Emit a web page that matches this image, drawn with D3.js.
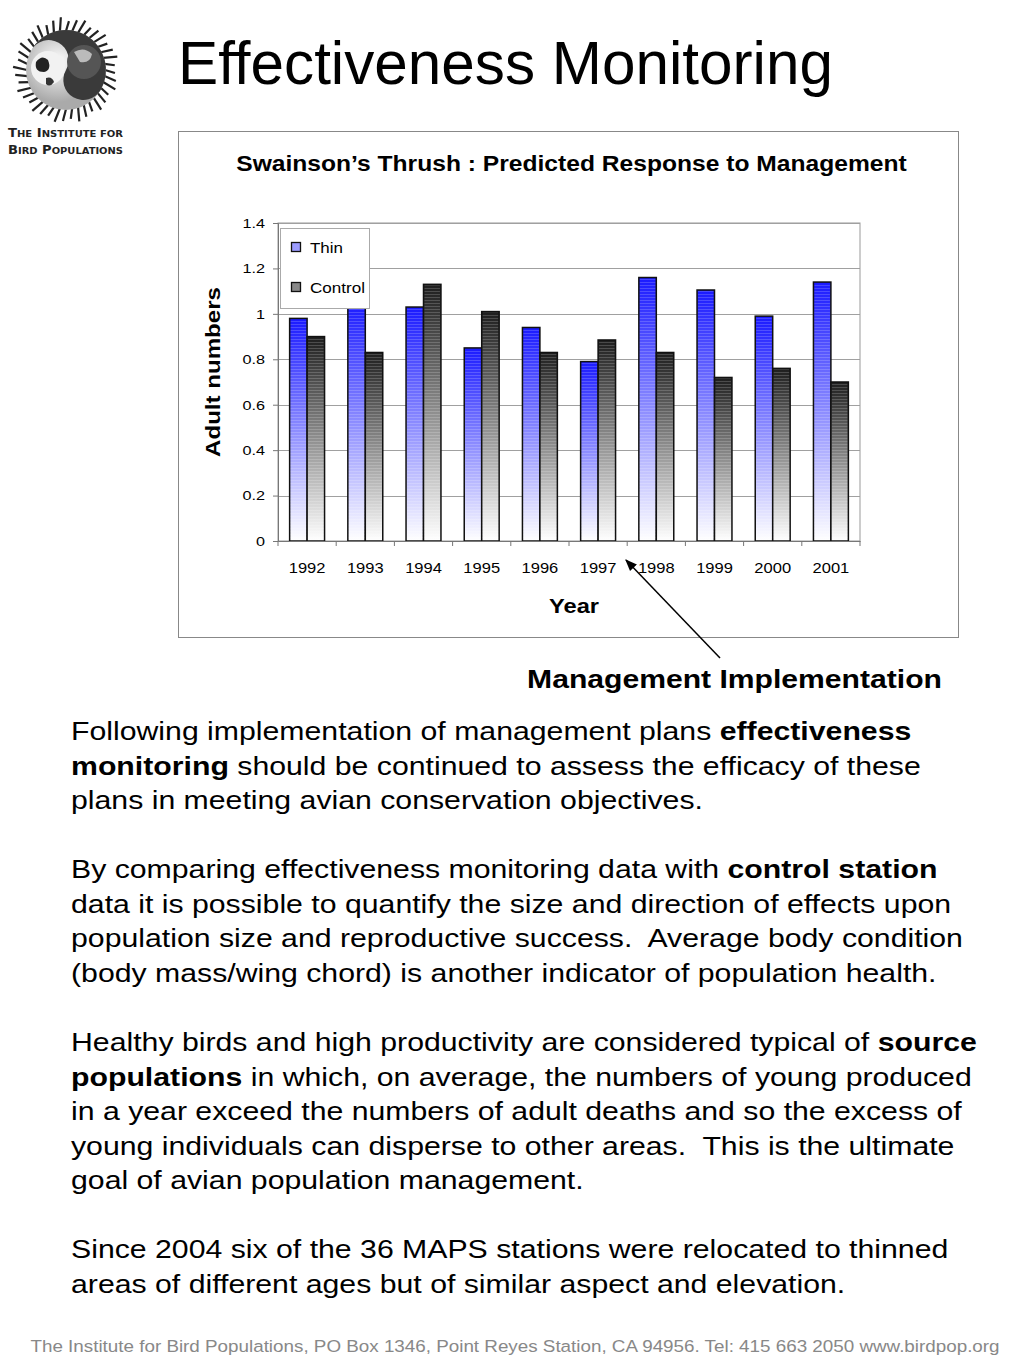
<!DOCTYPE html>
<html><head><meta charset="utf-8">
<script src="https://cdn.jsdelivr.net/npm/d3@7"></script>
<style>
html,body{margin:0;padding:0;background:#fff;}
svg{display:block;font-family:"Liberation Sans",Arial,Helvetica,sans-serif;}
</style></head>
<body>
<script>
const years = ["1992","1993","1994","1995","1996","1997","1998","1999","2000","2001"];
const thinValues = [0.98,1.05,1.03,0.85,0.94,0.79,1.16,1.105,0.99,1.14];
const controlValues = [0.90,0.83,1.13,1.01,0.83,0.885,0.83,0.72,0.76,0.70];
const seriesNames = ["Thin","Control"];
const yTicks = [0,0.2,0.4,0.6,0.8,1,1.2,1.4];

const W=1024,H=1365;
const svg=d3.select("body").append("svg").attr("width",W).attr("height",H);
svg.append("rect").attr("width",W).attr("height",H).attr("fill","#fff");
const defs=svg.append("defs");

// text helper: places text at (x,y) with anchor, and stretches horizontally to target width
function addText(parent,x,y,str,opts){
  const o=Object.assign({size:14,weight:"normal",anchor:"start",fill:"#000",width:null,rotate:0},opts);
  const t=parent.append("text").attr("x",0).attr("y",0).attr("font-size",o.size).attr("font-weight",o.weight)
    .attr("text-anchor",o.anchor).attr("fill",o.fill).style("white-space","pre");
  if(Array.isArray(str)) str.forEach(([s,b])=>t.append("tspan").attr("font-weight",b?"bold":"normal").text(s));
  else t.text(str);
  let sx=1;
  if(o.width){const w=t.node().getComputedTextLength(); if(w>0) sx=o.width/w;}
  t.attr("transform",`translate(${x},${y}) rotate(${o.rotate}) scale(${sx},1)`);
  return t;
}

function grad(id,top){
  const g=defs.append("linearGradient").attr("id",id).attr("x1",0).attr("y1",0).attr("x2",0).attr("y2",1);
  g.append("stop").attr("offset","0%").attr("stop-color",top);
  g.append("stop").attr("offset","100%").attr("stop-color","#ffffff");
}
grad("gThin","#1a1aff");
grad("gCtrl","#1e1e1e");
const pat=defs.append("pattern").attr("id","stripes").attr("width",4).attr("height",3).attr("patternUnits","userSpaceOnUse");
pat.append("rect").attr("width",4).attr("height",1).attr("fill","rgba(255,255,255,0.18)");

// ---- Logo ----
const logo=svg.append("g").attr("transform","translate(66,70)");
const R=44;
for(let i=0;i<40;i++){
  const a=i/40*2*Math.PI;
  const r1=R-5,r2=R+5+(i%3)*2;
  logo.append("line").attr("x1",Math.cos(a)*r1).attr("y1",Math.sin(a)*r1)
    .attr("x2",Math.cos(a+0.06)*r2).attr("y2",Math.sin(a+0.06)*r2)
    .attr("stroke","#222").attr("stroke-width",2.2);
}
const lg=defs.append("radialGradient").attr("id","lg").attr("cx","40%").attr("cy","40%");
lg.append("stop").attr("offset","0%").attr("stop-color","#fff");
lg.append("stop").attr("offset","100%").attr("stop-color","#aaa");
logo.append("circle").attr("r",R-4).attr("fill","url(#lg)");
const r=R-4;
logo.append("path").attr("d",`M0,${-r} A${r},${r} 0 0,1 0,${r} A${r/2},${r/2} 0 0,1 0,0 A${r/2},${r/2} 0 0,0 0,${-r} Z`)
  .attr("fill","#3a3a3a").attr("transform","rotate(-60)");
logo.append("circle").attr("cx",-18).attr("cy",-2).attr("r",17).attr("fill","#f2f2f2");
logo.append("path").attr("d","M-30,-8 q6,-8 12,-2 q4,10 -4,12 q-10,0 -8,-10 Z").attr("fill","#222");
logo.append("path").attr("d","M-20,8 q6,-2 8,4 q-4,6 -8,2 Z").attr("fill","#333");
logo.append("circle").attr("cx",18).attr("cy",-8).attr("r",17).attr("fill","#555");
logo.append("path").attr("d","M8,-18 q10,-6 18,2 q-2,10 -12,8 Z").attr("fill","#bbb");
const lt=svg.append("g").attr("font-family","'DejaVu Sans',Arial,sans-serif").attr("font-weight","bold").attr("fill","#222");
lt.append("text").attr("x",8).attr("y",137).attr("font-size",12.5).attr("textLength",115).attr("lengthAdjust","spacingAndGlyphs").html('T<tspan font-size="9.5">HE</tspan> I<tspan font-size="9.5">NSTITUTE FOR</tspan>');
lt.append("text").attr("x",8).attr("y",154).attr("font-size",12.5).attr("textLength",115).attr("lengthAdjust","spacingAndGlyphs").html('B<tspan font-size="9.5">IRD</tspan> P<tspan font-size="9.5">OPULATIONS</tspan>');

// ---- Page title ----
addText(svg,178,84,"Effectiveness Monitoring",{size:62,width:655});

// ---- Chart box ----
svg.append("rect").attr("x",178.5).attr("y",131.5).attr("width",780).attr("height",506).attr("fill","#fff").attr("stroke","#888");
addText(svg,571.5,171,"Swainson\u2019s Thrush : Predicted Response to Management",{size:23,weight:"bold",anchor:"middle",width:671});

const px0=278,px1=860,py0=223,py1=541;
const x=d3.scaleBand().domain(years).range([px0,px1]).paddingInner(0.4).paddingOuter(0.2);
const xs=d3.scaleBand().domain(seriesNames).range([0,x.bandwidth()]);
const y=d3.scaleLinear().domain([0,1.4]).range([py1,py0]);

const plot=svg.append("g");
plot.append("rect").attr("x",px0).attr("y",py0).attr("width",px1-px0).attr("height",py1-py0).attr("fill","#fff").attr("stroke","#999");
plot.selectAll("line.grid").data(yTicks.slice(1)).enter().append("line").attr("class","grid")
  .attr("x1",px0).attr("x2",px1).attr("y1",d=>Math.round(y(d))+0.5).attr("y2",d=>Math.round(y(d))+0.5).attr("stroke","#a0a0a0");

const data=years.map((yr,i)=>({yr,vals:[{s:"Thin",v:thinValues[i]},{s:"Control",v:controlValues[i]}]}));
const grp=plot.selectAll("g.yr").data(data).enter().append("g").attr("transform",d=>`translate(${x(d.yr)},0)`);
grp.selectAll("rect.bar").data(d=>d.vals).enter().append("rect").attr("class","bar")
  .attr("x",d=>xs(d.s)).attr("y",d=>y(d.v)).attr("width",xs.bandwidth()).attr("height",d=>py1-y(d.v))
  .attr("fill",d=>d.s==="Thin"?"url(#gThin)":"url(#gCtrl)").attr("stroke","#111").attr("stroke-width",1.5);
grp.selectAll("rect.str").data(d=>d.vals).enter().append("rect").attr("class","str")
  .attr("x",d=>xs(d.s)+1).attr("y",d=>y(d.v)+1).attr("width",xs.bandwidth()-2).attr("height",d=>py1-y(d.v)-2)
  .attr("fill","url(#stripes)");

// axes
const yAxis=d3.axisLeft(y).tickValues(yTicks).tickSize(5).tickFormat(d=>d===0?"0":String(d));
const ya=svg.append("g").attr("transform",`translate(${px0},0)`).call(yAxis);
ya.select(".domain").attr("stroke","#777");
ya.selectAll(".tick line").attr("stroke","#777");
ya.selectAll("text").attr("font-size",13.5).attr("fill","#000").attr("x",0).attr("dy","0.32em")
  .attr("transform","translate(-13,0) scale(1.2,1)");

const xa=svg.append("g").attr("transform",`translate(0,${py1})`).call(d3.axisBottom(x).tickSize(0).tickPadding(20));
xa.select(".domain").attr("stroke","#777");
xa.selectAll("text").attr("font-size",14).attr("fill","#000").attr("y",0).attr("dy","0")
  .attr("transform","translate(0,32) scale(1.18,1)");
const bounds=years.map(d=>x(d)-x.step()*x.paddingInner()/2).concat([px1]);
svg.selectAll("line.xt").data(bounds).enter().append("line").attr("x1",d=>d).attr("x2",d=>d)
  .attr("y1",py1).attr("y2",py1+5).attr("stroke","#777");

addText(svg,220,372,"Adult numbers",{size:20,weight:"bold",anchor:"middle",rotate:-90,width:170});
addText(svg,574,613,"Year",{size:20,weight:"bold",anchor:"middle",width:50});

// legend
const leg=svg.append("g");
leg.append("rect").attr("x",280.5).attr("y",228.5).attr("width",89).attr("height",80).attr("fill","#fff").attr("stroke","#aaa");
seriesNames.forEach((s,i)=>{
  const ly=248+i*40;
  leg.append("rect").attr("x",291.5).attr("y",ly-5.5).attr("width",9).attr("height",9)
    .attr("fill",i===0?"#9c9cff":"#888").attr("stroke","#111").attr("stroke-width",1.3);
  addText(leg,310,ly+5,s,{size:14.5,width:i===0?33:55});
});

// annotation
const ad=defs.append("marker").attr("id","ah").attr("viewBox","0 0 10 10").attr("refX",9).attr("refY",5)
  .attr("markerWidth",8).attr("markerHeight",8).attr("orient","auto");
ad.append("path").attr("d","M0,1 L10,5 L0,9 Z").attr("fill","#000");
svg.append("line").attr("x1",720).attr("y1",658).attr("x2",626).attr("y2",560).attr("stroke","#000").attr("stroke-width",1.5).attr("marker-end","url(#ah)");
addText(svg,734.5,688,"Management Implementation",{size:26,weight:"bold",anchor:"middle",width:415});

// body text
const paras=[
 [[["Following implementation of management plans ",0],["effectiveness",1]],[["monitoring",1],[" should be continued to assess the efficacy of these",0]],[["plans in meeting avian conservation objectives.",0]]],
 [[["By comparing effectiveness monitoring data with ",0],["control station",1]],[["data it is possible to quantify the size and direction of effects upon",0]],[["population size and reproductive success.  Average body condition",0]],[["(body mass/wing chord) is another indicator of population health.",0]]],
 [[["Healthy birds and high productivity are considered typical of ",0],["source",1]],[["populations",1],[" in which, on average, the numbers of young produced",0]],[["in a year exceed the numbers of adult deaths and so the excess of",0]],[["young individuals can disperse to other areas.  This is the ultimate",0]],[["goal of avian population management.",0]]],
 [[["Since 2004 six of the 36 MAPS stations were relocated to thinned",0]],[["areas of different ages but of similar aspect and elevation.",0]]]
];
const paraY=[740,878,1051,1258];
const lh=34.5;
paras.forEach((p,pi)=>{
  p.forEach((line,li)=>{
    const t=addText(svg,71,paraY[pi]+li*lh,line,{size:25});
    t.attr("transform",`translate(71,${paraY[pi]+li*lh}) scale(1.21,1)`);
  });
});

addText(svg,515,1352,"The Institute for Bird Populations, PO Box 1346, Point Reyes Station, CA 94956. Tel: 415 663 2050 www.birdpop.org",{size:17,anchor:"middle",fill:"#888",width:970});
</script>
</body></html>
